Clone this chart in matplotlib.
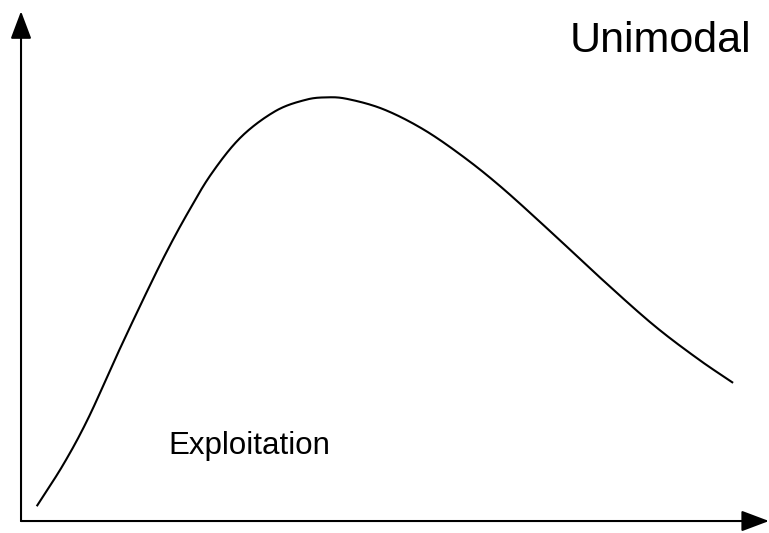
import numpy as np
import matplotlib.pyplot as plt

plt.rcParams['font.family'] = ['Liberation Sans', 'DejaVu Sans']

# curve (x: 0..100 along the axis, y: 0..100 up the axis)
x_vals = [2.1, 5.7, 9.0, 13.0, 16.8, 19.5, 22.2, 25.4, 29.4, 34.0, 38.0, 40.8,
          43.6, 48.4, 53.7, 59.0, 64.2, 70.7, 77.9, 84.6, 90.5, 95.2]
y_vals = [2.9, 11.2, 20.2, 33.1, 44.9, 52.9, 60.2, 68.0, 75.3, 80.4, 82.6, 83.1,
          82.8, 80.8, 76.9, 71.6, 65.5, 56.9, 47.1, 38.4, 31.8, 27.1]

title_text = "Unimodal"
region_text = "Exploitation"


def catmull_rom(px, py, n=30):
    # draw a smooth line through the read points
    p = np.column_stack([px, py])
    p = np.vstack([2 * p[0] - p[1], p, 2 * p[-1] - p[-2]])
    t = np.linspace(0, 1, n, endpoint=False)[:, None]
    out = []
    for i in range(1, len(p) - 2):
        p0, p1, p2, p3 = p[i - 1], p[i], p[i + 1], p[i + 2]
        out.append(0.5 * (2 * p1 + (-p0 + p2) * t
                          + (2 * p0 - 5 * p1 + 4 * p2 - p3) * t ** 2
                          + (-p0 + 3 * p1 - 3 * p2 + p3) * t ** 3))
    out.append(p[-2][None, :])
    out = np.vstack(out)
    return out[:, 0], out[:, 1]


fig = plt.figure(figsize=(7.69, 5.33), dpi=100)
ax = fig.add_axes([0, 0, 1, 1])
ax.set_xlim(-2.81, 100.0)
ax.set_ylim(-2.35, 102.2)
ax.axis('off')

cx, cy = catmull_rom(x_vals, y_vals)
ax.plot(cx, cy, color='black', lw=1.5, solid_capstyle='butt')

arrow = dict(arrowstyle='-|>,head_length=0.85,head_width=0.32',
             mutation_scale=20, lw=1.5, color='black',
             shrinkA=0, shrinkB=0)
ax.annotate('', xy=(0, 100.0), xytext=(0, 0), arrowprops=arrow,
            annotation_clip=False)
ax.annotate('', xy=(100.0, 0), xytext=(0, 0), arrowprops=arrow,
            annotation_clip=False)

ax.text(73.4, 92.0, title_text, fontsize=31, ha='left', va='baseline')
ax.text(19.65, 13.1, region_text, fontsize=22.5, ha='left', va='baseline')

fig.savefig('out.png', dpi=100)
